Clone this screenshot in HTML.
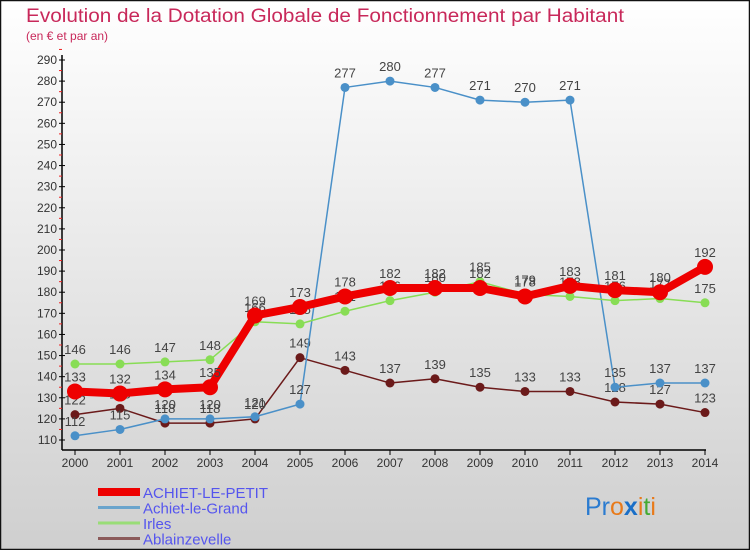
<!DOCTYPE html>
<html><head><meta charset="utf-8"><style>
body{margin:0;width:750px;height:550px;overflow:hidden;font-family:"Liberation Sans",sans-serif}
#c{position:absolute;left:0;top:0}
</style></head><body>
<svg id="c" width="750" height="550" xmlns="http://www.w3.org/2000/svg">
<defs><linearGradient id="bg" x1="0" y1="0" x2="0" y2="1"><stop offset="0" stop-color="#ffffff"/><stop offset="1" stop-color="#cfcfcf"/></linearGradient></defs>
<rect x="0.5" y="0.5" width="749" height="549" fill="url(#bg)" stroke="#111" stroke-width="1.5"/>
<text x="26" y="22" font-size="19" fill="#c8285a" textLength="598" lengthAdjust="spacingAndGlyphs">Evolution de la Dotation Globale de Fonctionnement par Habitant</text>
<text x="26" y="40" font-size="12" fill="#c8285a">(en € et par an)</text>
<g id="axes"></g><g id="series"></g><g id="legend"></g>
<text x="585" y="515" font-size="25"><tspan fill="#2a7bd0">Pr</tspan><tspan fill="#e87a1a">o</tspan><tspan fill="#1a6fc8" font-weight="bold">x</tspan><tspan fill="#e87a1a">i</tspan><tspan fill="#44aa33">t</tspan><tspan fill="#e87a1a">i</tspan></text>
</svg>
<script>
const years=[2000,2001,2002,2003,2004,2005,2006,2007,2008,2009,2010,2011,2012,2013,2014];
const yTicks=[110,120,130,140,150,160,170,180,190,200,210,220,230,240,250,260,270,280,290];
const petit=[133,132,134,135,169,173,178,182,182,182,178,183,181,180,192];
const grand=[112,115,120,120,121,127,277,280,277,271,270,271,135,137,137];
const irles=[146,146,147,148,166,165,171,176,180,185,179,178,176,177,175];
const ablain=[122,125,118,118,120,149,143,137,139,135,133,133,128,127,123];
const names=["ACHIET-LE-PETIT","Achiet-le-Grand","Irles","Ablainzevelle"];
const NS="http://www.w3.org/2000/svg";
const X=i=>75+i*45;
const Y=v=>440-(v-110)*380/180;
function mk(t,a,p){const e=document.createElementNS(NS,t);for(const k in a)e.setAttribute(k,a[k]);p.appendChild(e);return e;}
const ax=document.getElementById('axes');
let yl=mk('line',{x1:62,y1:55,x2:62,y2:450,stroke:'#000','stroke-width':1.5},ax);


let xl=mk('line',{x1:62,y1:450,x2:706,y2:450,stroke:'#000','stroke-width':1.5},ax);


yTicks.forEach(v=>{
  mk('line',{x1:59,y1:Y(v),x2:65,y2:Y(v),stroke:'#000'},ax);
  mk('line',{x1:59,y1:Y(v+5),x2:62,y2:Y(v+5),stroke:'#e22'},ax);
  const t=mk('text',{x:57,y:Y(v)+4,'font-size':12,'text-anchor':'end',fill:'#333'},ax);
  t.textContent=v;
  
  
});
years.forEach((yr,i)=>{
  mk('line',{x1:X(i),y1:450,x2:X(i),y2:455,stroke:'#000'},ax);
  const t=mk('text',{x:X(i),y:467,'font-size':12,'text-anchor':'middle',fill:'#333'},ax);
  t.textContent=yr;
  
  
});
const sg=document.getElementById('series');
const defs=[
 {d:ablain,c:'#6b1a1a',w:1.5,r:4.5,n:'series-ablainzevelle'},
 {d:grand,c:'#4a90c8',w:1.5,r:4.5,n:'series-achiet-le-grand'},
 {d:irles,c:'#88dd55',w:1.5,r:4.5,n:'series-irles'},
 {d:petit,c:'#ee0000',w:8,r:8,n:'series-achiet-le-petit'}];
defs.forEach(s=>{
  const g=mk('g',{},sg);
  
  
  const pl=mk('polyline',{points:s.d.map((v,i)=>X(i)+','+Y(v)).join(' '),fill:'none',stroke:s.c,'stroke-width':s.w,'stroke-linejoin':'round'},g);
  
  
  s.d.forEach((v,i)=>{
    const c=mk('circle',{cx:X(i),cy:Y(v),r:s.r,fill:s.c},g);
    
    
    const t=mk('text',{x:X(i),y:Y(v)-10,'font-size':13,'text-anchor':'middle',fill:'#444'},g);
    t.textContent=v;
    
    
  });
});
const lg=document.getElementById('legend');
const lc=['#ee0000','#6aa4cc','#99dd77','#8b5a5a'],lw=[8,3,3,3];
names.forEach((n,i)=>{
  const y=492+i*15.5;
  const g=mk('g',{},lg);
  
  
  mk('line',{x1:98,y1:y,x2:140,y2:y,stroke:lc[i],'stroke-width':lw[i]},g);
  const t=mk('text',{x:143,y:y+6,'font-size':15,fill:'#5555ee'},g);
  t.textContent=n;
});
</script>
</body></html>
